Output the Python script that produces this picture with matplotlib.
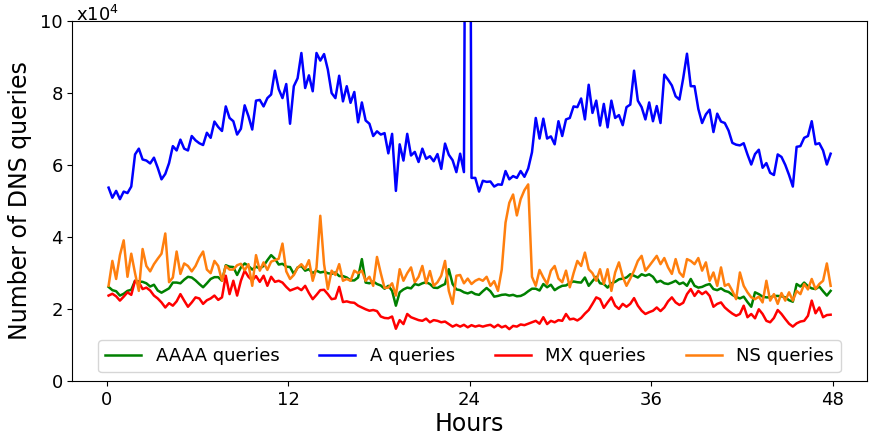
"""Two days of DNS query volume per record type, sampled every 15 minutes."""

import matplotlib

matplotlib.use("Agg")
import matplotlib.pyplot as plt
import numpy as np

# query counts, in units of 1e4, one sample per 15 min starting at 00:07
A_QUERIES = [
    5.37, 5.09, 5.28, 5.05, 5.26, 5.22, 5.40, 6.29, 6.45, 6.15,
    6.12, 6.04, 6.20, 5.92, 5.60, 5.75, 6.05, 6.52, 6.40, 6.70,
    6.45, 6.40, 6.80, 6.68, 6.60, 6.55, 6.89, 6.75, 7.20, 7.05,
    6.94, 7.62, 7.30, 7.21, 6.84, 7.00, 7.65, 7.35, 6.98, 7.78,
    7.80, 7.62, 7.85, 7.95, 8.61, 8.10, 7.85, 8.24, 7.14, 8.18,
    8.40, 9.10, 8.13, 8.48, 8.04, 9.10, 8.89, 9.07, 8.64, 7.99,
    7.85, 8.47, 7.76, 8.18, 7.72, 8.02, 7.18, 7.73, 7.23, 7.14,
    6.80, 6.93, 6.84, 6.88, 6.32, 6.86, 5.28, 6.57, 6.12, 6.86,
    6.26, 6.36, 6.08, 6.45, 6.17, 6.24, 6.10, 6.30, 5.89, 6.59,
    6.28, 6.13, 5.80, 6.31, 5.80, 30.0, 5.64, 5.64, 5.26, 5.56,
    5.53, 5.54, 5.40, 5.46, 5.45, 5.83, 5.60, 5.69, 5.64, 5.83,
    5.67, 5.90, 6.35, 7.30, 6.73, 7.28, 6.73, 6.79, 6.57, 7.21,
    6.80, 7.26, 7.30, 7.62, 7.60, 7.84, 7.26, 8.22, 7.44, 7.78,
    7.09, 7.69, 7.04, 7.78, 7.30, 7.38, 7.10, 7.60, 7.67, 8.61,
    7.78, 7.60, 7.26, 7.73, 7.21, 7.63, 7.16, 8.50, 8.36, 8.20,
    7.90, 7.81, 8.40, 9.08, 8.18, 8.18, 7.55, 7.16, 7.40, 7.53,
    6.91, 7.42, 7.20, 7.16, 6.95, 6.61, 6.56, 6.54, 6.60, 6.29,
    6.01, 6.30, 6.42, 5.92, 6.05, 5.78, 5.72, 6.29, 6.22, 6.00,
    5.72, 5.40, 6.50, 6.52, 6.75, 6.80, 7.21, 6.57, 6.60, 6.40,
    6.01, 6.31,
]
AAAA_QUERIES = [
    2.62, 2.53, 2.50, 2.38, 2.43, 2.51, 2.54, 2.79, 2.77, 2.76,
    2.72, 2.63, 2.68, 2.52, 2.46, 2.52, 2.58, 2.74, 2.74, 2.72,
    2.82, 2.90, 2.88, 2.80, 2.70, 2.61, 2.72, 2.84, 2.89, 2.89,
    2.79, 3.22, 3.18, 3.17, 2.95, 3.16, 3.27, 3.20, 3.10, 3.18,
    3.13, 3.20, 3.36, 3.50, 3.40, 3.24, 3.26, 3.18, 3.17, 2.98,
    3.16, 3.20, 3.07, 3.11, 3.00, 3.07, 3.02, 3.04, 3.00, 2.98,
    3.02, 2.92, 2.92, 2.88, 2.80, 2.80, 2.88, 3.39, 2.74, 2.72,
    2.77, 2.70, 2.66, 2.57, 2.65, 2.51, 2.10, 2.47, 2.55, 2.60,
    2.58, 2.70, 2.67, 2.72, 2.75, 2.70, 2.60, 2.59, 2.65, 2.70,
    3.11, 2.70, 2.55, 2.53, 2.47, 2.44, 2.48, 2.42, 2.40, 2.50,
    2.59, 2.50, 2.35, 2.37, 2.40, 2.41, 2.38, 2.40, 2.36, 2.37,
    2.42, 2.50, 2.57, 2.57, 2.52, 2.70, 2.61, 2.68, 2.53, 2.60,
    2.65, 2.66, 2.73, 2.77, 2.75, 2.74, 2.88, 2.65, 2.78, 2.90,
    2.72, 2.70, 2.60, 2.72, 2.76, 2.83, 2.85, 2.88, 2.97, 2.93,
    2.88, 2.97, 2.93, 2.97, 2.90, 2.75, 2.79, 2.72, 2.70, 2.74,
    2.79, 2.70, 2.74, 2.65, 2.84, 2.65, 2.60, 2.62, 2.67, 2.70,
    2.56, 2.53, 2.58, 2.51, 2.48, 2.40, 2.34, 2.30, 2.35, 2.20,
    2.07, 2.47, 2.42, 2.35, 2.33, 2.33, 2.37, 2.37, 2.36, 2.33,
    2.25, 2.21, 2.70, 2.63, 2.74, 2.64, 2.58, 2.56, 2.63, 2.50,
    2.38, 2.51,
]
MX_QUERIES = [
    2.38, 2.43, 2.36, 2.24, 2.35, 2.47, 2.40, 2.79, 2.75, 2.56,
    2.60, 2.52, 2.38, 2.30, 2.19, 2.05, 2.17, 2.10, 2.22, 2.42,
    2.24, 2.07, 2.19, 2.33, 2.30, 2.15, 2.25, 2.30, 2.38, 2.26,
    2.33, 2.93, 2.42, 2.79, 2.38, 2.79, 3.07, 2.90, 2.80, 2.92,
    2.76, 2.93, 2.65, 2.90, 2.76, 2.79, 2.74, 2.62, 2.52, 2.56,
    2.60, 2.53, 2.65, 2.45, 2.28, 2.40, 2.53, 2.54, 2.42, 2.28,
    2.30, 2.62, 2.20, 2.22, 2.19, 2.18, 2.10, 2.05, 2.00, 1.96,
    1.98, 1.95, 1.80, 1.76, 1.75, 1.80, 1.46, 1.70, 1.59, 1.87,
    1.78, 1.74, 1.70, 1.68, 1.74, 1.64, 1.70, 1.68, 1.64, 1.66,
    1.59, 1.52, 1.57, 1.52, 1.57, 1.50, 1.56, 1.52, 1.55, 1.52,
    1.55, 1.57, 1.50, 1.57, 1.50, 1.54, 1.45, 1.54, 1.52, 1.58,
    1.56, 1.60, 1.64, 1.68, 1.60, 1.78, 1.59, 1.68, 1.64, 1.70,
    1.68, 1.87, 1.72, 1.74, 1.69, 1.76, 1.88, 1.98, 2.15, 2.33,
    2.28, 2.04, 2.19, 2.33, 2.10, 2.01, 2.15, 2.07, 2.15, 2.31,
    2.10, 1.96, 1.87, 1.92, 1.96, 2.05, 1.95, 2.05, 2.22, 2.33,
    2.19, 2.12, 2.18, 2.42, 2.56, 2.37, 2.51, 2.42, 2.49, 2.37,
    2.07, 2.15, 2.19, 2.05, 1.96, 1.88, 1.82, 1.87, 2.10, 1.78,
    1.87, 1.75, 2.00, 1.87, 1.68, 1.64, 1.76, 1.98, 1.87, 1.73,
    1.60, 1.52, 1.61, 1.66, 1.68, 1.82, 2.24, 1.89, 2.05, 1.78,
    1.84, 1.85,
]
NS_QUERIES = [
    2.65, 3.34, 2.84, 3.50, 3.91, 2.90, 3.54, 3.00, 2.51, 3.67,
    3.20, 3.05, 3.25, 3.40, 3.54, 4.10, 2.75, 2.88, 3.60, 2.98,
    3.27, 3.20, 3.05, 3.20, 3.43, 3.60, 3.10, 3.00, 3.34, 3.20,
    2.79, 3.20, 3.10, 3.10, 3.22, 3.26, 3.08, 3.25, 2.65, 3.50,
    3.07, 3.30, 3.09, 3.32, 3.36, 3.40, 3.82, 3.05, 2.84, 2.95,
    3.15, 3.25, 3.12, 3.36, 2.79, 3.15, 4.59, 3.25, 2.56, 3.07,
    2.95, 3.25, 2.79, 2.84, 2.79, 3.07, 3.00, 3.07, 2.79, 2.90,
    2.65, 3.45, 3.00, 2.59, 2.60, 2.72, 2.38, 3.11, 2.79, 3.00,
    3.16, 2.75, 2.90, 3.20, 2.72, 3.06, 2.65, 2.75, 2.93, 3.34,
    2.51, 2.15, 2.93, 2.95, 2.72, 2.85, 2.70, 2.79, 2.84, 2.79,
    2.90, 2.65, 2.78, 2.51, 3.10, 4.40, 4.95, 5.18, 4.60, 5.05,
    5.30, 5.46, 2.90, 2.65, 3.09, 2.88, 2.70, 3.07, 3.20, 2.85,
    2.75, 3.07, 2.61, 3.00, 3.34, 3.20, 3.57, 3.11, 3.00, 2.79,
    3.11, 2.70, 3.11, 2.51, 3.02, 3.30, 2.90, 2.65, 2.85, 3.07,
    3.34, 3.48, 3.07, 3.20, 3.34, 3.48, 3.25, 3.42, 3.16, 2.98,
    3.39, 3.02, 2.90, 3.39, 3.34, 3.25, 3.42, 3.07, 3.30, 2.79,
    3.02, 2.65, 3.16, 2.65, 2.70, 2.51, 2.28, 3.02, 2.65, 2.47,
    2.33, 2.28, 2.35, 2.19, 2.79, 2.24, 2.42, 2.15, 2.45, 2.24,
    2.47, 2.24, 2.51, 2.42, 2.70, 2.55, 2.84, 2.56, 2.70, 2.79,
    3.27, 2.65,
]

HOURS = 0.125 + 0.25 * np.arange(len(A_QUERIES))

SERIES = [
    ("AAAA queries", AAAA_QUERIES, "green"),
    ("A queries", A_QUERIES, "blue"),
    ("MX queries", MX_QUERIES, "red"),
    ("NS queries", NS_QUERIES, "#ff7f0e"),
]
HOUR_TICKS = [0, 12, 24, 36, 48]
COUNT_TICKS = [0, 2, 4, 6, 8, 10]

plt.rcParams.update(
    {
        "font.family": "DejaVu Sans",
        "xtick.labelsize": 13,
        "ytick.labelsize": 13,
        "axes.labelsize": 17,
        "legend.fontsize": 13,
    }
)

fig = plt.figure(figsize=(8.69, 4.40), dpi=100)
ax = fig.add_axes([0.0834, 0.133, 0.914, 0.8204])

for label, values, color in SERIES:
    ax.plot(HOURS, values, color=color, lw=1.8, label=label)

ax.set_ylim(0, 10)
ax.set_xticks(HOUR_TICKS)
ax.set_yticks(COUNT_TICKS)
ax.set_xlabel("Hours", labelpad=2)
ax.set_ylabel("Number of DNS queries", labelpad=6)
ax.text(0.005, 1.0, "x10$^4$", transform=ax.transAxes, fontsize=13,
        ha="left", va="baseline")
ax.legend(loc="lower center", ncol=4, columnspacing=2.2)

fig.savefig("out.png", dpi=100)
plt.close(fig)
